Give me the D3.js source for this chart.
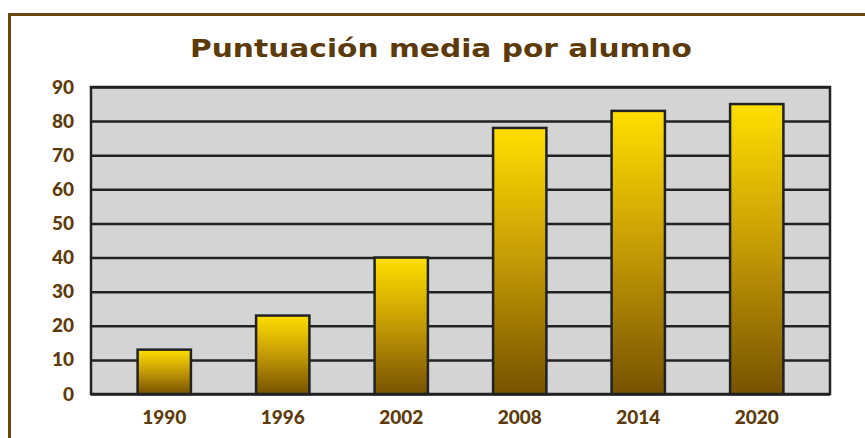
<!DOCTYPE html>
<html>
<head>
<meta charset="utf-8">
<script src="https://cdn.jsdelivr.net/npm/d3@7"></script>
<style>
  body { margin: 0; background: #fff; }
  .tick text { font-family: Lato, "Open Sans", sans-serif; font-weight: 900; font-size: 19px; fill: #5c3a0a; }
</style>
</head>
<body>
<div id="chart"></div>
<script>
// chart data
const years = ["1990", "1996", "2002", "2008", "2014", "2020"];
const scores = [13, 23, 40, 78, 83, 85];
const yTicks = [0, 10, 20, 30, 40, 50, 60, 70, 80, 90];
const title = "Puntuación media por alumno";

const W = 865, H = 438;
const plot = {left: 91, right: 830, top: 87, bottom: 394};

const svg = d3.select("#chart")
  .append("svg")
    .attr("width", W)
    .attr("height", H);

// brown frame (runs off the right and bottom edges)
svg.append("rect")
  .attr("x", 9.5).attr("y", 14.5)
  .attr("width", 900).attr("height", 500)
  .attr("fill", "none")
  .attr("stroke", "#6b4410")
  .attr("stroke-width", 3);

// gradient for the bars
const grad = svg.append("defs").append("linearGradient")
  .attr("id", "barGrad")
  .attr("x1", 0).attr("y1", 0).attr("x2", 0).attr("y2", 1);
grad.append("stop").attr("offset", "0%").attr("stop-color", "#ffdf00");
grad.append("stop").attr("offset", "50%").attr("stop-color", "#c39a05");
grad.append("stop").attr("offset", "100%").attr("stop-color", "#765300");

// scales
const x = d3.scaleBand()
  .domain(years)
  .range([plot.left + 14, plot.right - 14])
  .paddingInner(0.55)
  .paddingOuter(0.275);

const y = d3.scaleLinear()
  .domain([0, 90])
  .range([plot.bottom, plot.top]);

// plot background
svg.append("rect")
  .attr("x", plot.left).attr("y", plot.top)
  .attr("width", plot.right - plot.left)
  .attr("height", plot.bottom - plot.top)
  .attr("fill", "#d3d4d6")
  .attr("stroke", "#222")
  .attr("stroke-width", 2.5);

// horizontal grid lines
svg.append("g")
  .attr("transform", `translate(${plot.left},0)`)
  .call(d3.axisLeft(y).tickValues(yTicks).tickSize(-(plot.right - plot.left)).tickFormat(""))
  .call(g => g.select(".domain").remove())
  .call(g => g.selectAll("line").attr("stroke", "#222").attr("stroke-width", 2.5));

// y axis labels
svg.append("g")
  .attr("transform", `translate(${plot.left - 17},0)`)
  .call(d3.axisLeft(y).tickValues(yTicks).tickSize(0).tickPadding(0))
  .call(g => g.select(".domain").remove());

// bars
svg.append("g")
  .selectAll("rect")
  .data(scores)
  .join("rect")
    .attr("x", (d, i) => x(years[i]))
    .attr("y", d => y(d))
    .attr("width", x.bandwidth())
    .attr("height", d => y(0) - y(d))
    .attr("fill", "url(#barGrad)")
    .attr("stroke", "#222")
    .attr("stroke-width", 2.5);

// x axis labels
svg.append("g")
  .attr("transform", `translate(0,${plot.bottom + 16})`)
  .call(d3.axisBottom(x).tickSize(0).tickPadding(0))
  .call(g => g.select(".domain").remove())
  .call(g => g.selectAll("text").attr("dy", "0.71em"));

// title
svg.append("text")
  .attr("x", 441)
  .attr("y", 57)
  .attr("text-anchor", "middle")
  .attr("font-family", "DejaVu Sans, Verdana, sans-serif")
  .attr("font-weight", "bold")
  .attr("font-size", 25)
  .attr("textLength", 502)
  .attr("lengthAdjust", "spacingAndGlyphs")
  .attr("fill", "#5c3a0a")
  .text(title);
</script>
</body>
</html>
